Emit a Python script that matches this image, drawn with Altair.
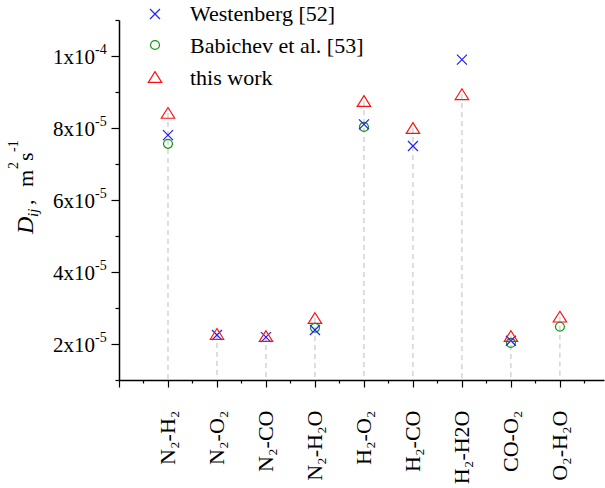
import altair as alt
import pandas as pd

# ---------------- data ----------------
categories = ["N₂-H₂", "N₂-O₂", "N₂-CO", "N₂-H₂O", "H₂-O₂", "H₂-CO", "H₂-H2O", "CO-O₂", "O₂-H₂O"]
positions = [1, 2, 3, 4, 5, 6, 7, 8, 9]
westenberg = [7.80e-5, 2.25e-5, 2.19e-5, 2.39e-5, 8.10e-5, 7.50e-5, 9.90e-5, 2.09e-5, None]
babichev = [7.56e-5, None, None, 2.45e-5, 8.03e-5, None, None, 2.03e-5, 2.48e-5]
this_work = [8.42e-5, 2.28e-5, 2.22e-5, 2.72e-5, 8.75e-5, 8.00e-5, 8.94e-5, 2.22e-5, 2.76e-5]

series_names = ["Westenberg [52]", "Babichev et al. [53]", "this work"]

ytick_values = [2e-5, 4e-5, 6e-5, 8e-5, 1e-4]
ytick_main = ["2x10", "4x10", "6x10", "8x10", "1x10"]
ytick_sup = ["-5", "-5", "-5", "-5", "-4"]

# ---------------- tables ----------------
def series_df(vals):
    return pd.DataFrame([{"pos": p, "value": v} for p, v in zip(positions, vals) if v is not None])

rule_df = pd.DataFrame({"pos": positions, "value": this_work})
ytick_df = pd.DataFrame({"value": ytick_values, "main": ytick_main, "sup": ytick_sup})
legend_df = pd.DataFrame({"name": series_names, "row": [0, 1, 2]})

FONT = "Liberation Serif"

label_array = "[" + ",".join("'" + c + "'" for c in categories) + "]"

xscale = alt.Scale(domain=[0, 9.9], nice=False, zero=False)
yscale = alt.Scale(domain=[1e-5, 1.1e-4], nice=False, zero=False)

xaxis = alt.Axis(
    values=[k * 0.5 for k in range(0, 20)],
    title=None, grid=False,
    labelExpr="(datum.value % 1 == 0 && datum.value >= 1) ? " + label_array + "[datum.value - 1] : ''",
    labelAngle=270, labelFont=FONT, labelFontSize=22, labelPadding=23,
    labelOverlap=False, labelFlush=False, labelBound=False, labelColor="black",
    tickSize={"condition": {"test": "datum.value % 1 != 0", "value": 3}, "value": 7},
    domainColor="black", tickColor="black", domainWidth=1.5, tickWidth=1.2,
)
yaxis = alt.Axis(
    values=[k * 1e-5 for k in range(1, 12)],
    title=None, grid=False, labels=False,
    tickSize={"condition": {"test": "round(datum.value * 1e5) % 2 == 1", "value": 4}, "value": 8},
    domainColor="black", tickColor="black", domainWidth=1.5, tickWidth=1.2,
)

X = alt.X("pos:Q", scale=xscale, axis=xaxis, title=None)
Y = alt.Y("value:Q", scale=yscale, axis=yaxis, title=None)

rules = alt.Chart(rule_df).mark_rule(color="#bdbdbd", strokeDash=[5, 4], strokeWidth=1).encode(
    x=X, y=Y, y2=alt.datum(1e-5)
)

CROSS = "M-1,-1L1,1M-1,1L1,-1"
TRI = "M0,-0.8L1,0.8L-1,0.8Z"
styles = [
    dict(shape=CROSS, size=100, color="#1f1fff"),
    dict(shape="circle", size=80, color="#119911"),
    dict(shape=TRI, size=180, color="#ff1010"),
]

point_layers = []
for vals, st in zip([babichev, westenberg, this_work], [styles[1], styles[0], styles[2]]):
    point_layers.append(
        alt.Chart(series_df(vals)).mark_point(filled=False, strokeWidth=1.2, opacity=1,
                                              shape=st["shape"], size=st["size"], color=st["color"]).encode(
            x=X, y=Y
        )
    )

ymain = alt.Chart(ytick_df).mark_text(font=FONT, fontSize=21, align="right", baseline="alphabetic",
                                      dy=8, color="black").encode(
    x=alt.value(-24), y=Y, text="main:N"
)
ysup = alt.Chart(ytick_df).mark_text(font=FONT, fontSize=14, align="left", baseline="alphabetic",
                                     dy=-2, color="black").encode(
    x=alt.value(-24), y=Y, text="sup:N"
)


def seg(txt, x, y, size, style="normal", angle=270):
    return alt.Chart(pd.DataFrame({"t": [txt]})).mark_text(
        font=FONT, fontSize=size, fontStyle=style, angle=angle,
        align="left", baseline="alphabetic", color="black"
    ).encode(x=alt.value(x), y=alt.value(y), text="t:N")


title_layers = [
    seg("D", -86, 214, 24, "italic"),
    seg("ij", -81, 197, 15, "italic"),
    seg(",", -86, 185, 22),
    seg("m", -86, 167, 22),
    seg("2", -101, 149, 14),
    seg("s", -86, 141, 22),
    seg("-1", -101, 132, 14),
]

# manual legend symbols
one = pd.DataFrame({"k": [0]})
legend_layers = []
sym_y = [-6, 25, 57]
for st, sy in zip(styles, sym_y):
    legend_layers.append(
        alt.Chart(one).mark_point(filled=False, strokeWidth=1.2, opacity=1, shape=st["shape"],
                                  size=st["size"], color=st["color"]).encode(
            x=alt.value(36), y=alt.value(sy)
        )
    )

legend_text = alt.Chart(legend_df).mark_text(
    font=FONT, fontSize=22, fontStyle="normal", fontWeight="normal",
    align="left", baseline="alphabetic", color="black"
).encode(
    x=alt.value(71),
    y=alt.Y("row:Q", scale=alt.Scale(domain=[0, 2], range=[1, 65], nice=False, zero=False), axis=None),
    text="name:N",
)

inner = alt.layer(rules, *point_layers, ymain, ysup, *title_layers, *legend_layers).properties(
    width=485, height=360,
)
chart = alt.layer(inner, legend_text).resolve_scale(y="independent").properties(
    width=485, height=360,
    autosize=alt.AutoSizeParams(type="none"),
    padding={"left": 119, "top": 20, "right": 1, "bottom": 108},
).configure_view(stroke=None)

chart.save("out.html", embed_options={"renderer": "svg", "actions": False})
